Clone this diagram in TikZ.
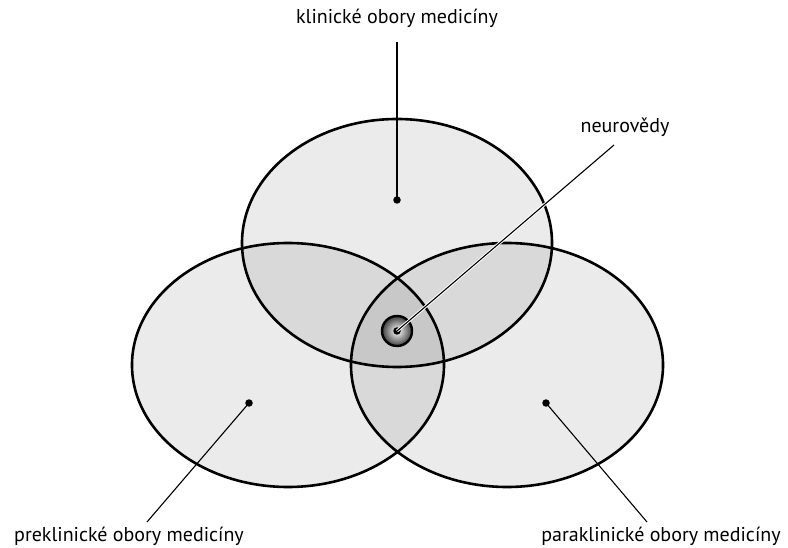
\documentclass[tikz,border=0pt]{standalone}
\usepackage{fontspec}
\setmainfont{PT Sans}
\begin{document}
\begin{tikzpicture}[x=1pt,y=-1pt,
  region/.style={fill=black,fill opacity=0.08},
  rim/.style={draw=black,line width=2.6pt},
  leader/.style={draw=black,line width=1.1pt},
  dotmark/.style={circle,fill=black,inner sep=0pt,minimum size=7.5pt},
  lbl/.style={font=\fontsize{20}{24}\selectfont,inner sep=0pt}]
\useasboundingbox (0,0) rectangle (788,548);
% regions
\fill[region] (397,243) ellipse [x radius=155, y radius=124];
\fill[region] (288,365) ellipse [x radius=156, y radius=122];
\fill[region] (507,365) ellipse [x radius=156, y radius=122];
\draw[rim] (397,243) ellipse [x radius=155, y radius=124];
\draw[rim] (288,365) ellipse [x radius=156, y radius=122];
\draw[rim] (507,365) ellipse [x radius=156, y radius=122];
% core
\shade[inner color=white, outer color=black!80] (397,331) circle [radius=16];
\draw[line width=2.4pt] (397,331) circle [radius=15];
% labels
\node[lbl] (klin) at (397,18) {klinické obory medicíny};
\node[lbl] (neuro) at (625,127) {neurovědy};
\node[lbl] (prek) at (129,536) {preklinické obory medicíny};
\node[lbl] (para) at (661,536) {paraklinické obory medicíny};
% dots
\node[dotmark] (dk) at (397,200) {};
\node[dotmark] (dn) at (397,331) {};
\node[dotmark] (dp) at (249,403) {};
\node[dotmark] (dr) at (546,403) {};
\coordinate (ek) at (397,42);
\coordinate (en) at (614,145);
\coordinate (ep) at (147,522);
\coordinate (er) at (647,522);
% leaders
\draw[leader] (ek) -- (dk.center);
\draw[leader] (ep) -- (dp.center);
\draw[leader] (er) -- (dr.center);
\draw[white,line width=3pt] (en) -- (dn.center);
\draw[leader] (en) -- (dn.center);
\end{tikzpicture}
\end{document}
